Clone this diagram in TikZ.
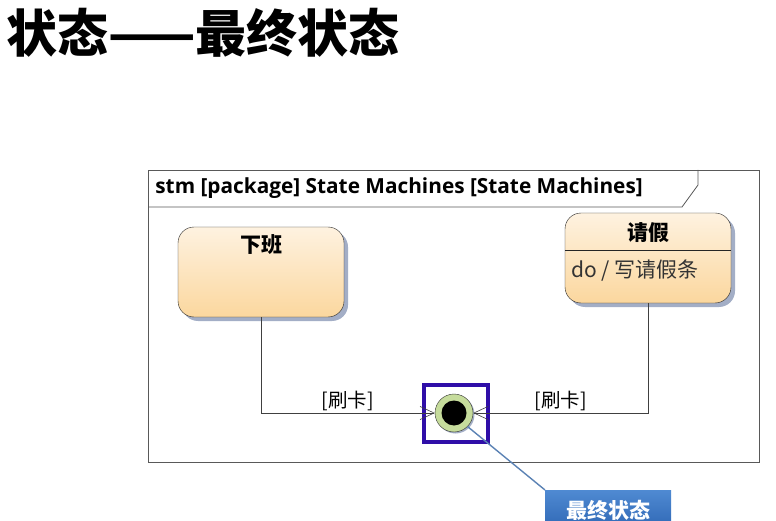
\documentclass[tikz,border=0pt]{standalone}
\usepackage{fontspec}
\setmainfont{Noto Sans CJK SC}
\newfontfamily\latinsans{Open Sans}
\usetikzlibrary{shadows,arrows.meta}
\definecolor{stateTop}{HTML}{FEF2E0}
\definecolor{stateBot}{HTML}{FBD79E}
\definecolor{shadowBlue}{HTML}{A3AEC6}
\definecolor{finalGreen}{HTML}{C6DC9C}
\definecolor{selBlue}{HTML}{2F0EA8}
\definecolor{calloutTop}{HTML}{4F8AD2}
\definecolor{calloutBot}{HTML}{2E66B4}
\definecolor{leaderBlue}{HTML}{5B82B4}
\tikzset{
  statebox/.style={draw=black!85, rounded corners=16pt, top color=stateTop,
    bottom color=stateBot, minimum width=166pt, inner sep=0pt,
    drop shadow={shadow xshift=4pt, shadow yshift=-4pt, fill=shadowBlue, opacity=1}},
  trans/.style={draw=black!75, line width=0.7pt,
    -{Straight Barb[length=14pt,width=13pt,line width=0.6pt]}},
  guard/.style={font=\fontsize{19.5}{19.5}\selectfont, above=-1pt}
}
\begin{document}
\begin{tikzpicture}[x=1pt,y=-1pt]
    \useasboundingbox (0,0) rectangle (776,521);
    % title
    \node[anchor=west, inner sep=0pt, font=\fontsize{51}{51}\selectfont\bfseries]
      (title) at (6,33) {状态——最终状态};
    % frame with tab
    \begin{scope}[draw=black!65, line width=0.8pt]
      \draw (148,170) rectangle (759,462);
      \draw (148,207) -- (682,207) -- (698,185) -- (698,170);
      \node[anchor=west, inner sep=0pt, font=\fontsize{20.8}{20.8}\latinsans\bfseries]
        (frameName) at (155,188) {stm [package] State Machines [State Machines]};
    \end{scope}
    % states
    \node[statebox, minimum height=90pt] (xiaban) at (261,272) {};
    \node[font=\fontsize{21}{21}\selectfont\bfseries] (xiabanName) at (261,245) {下班};
    \node[statebox, minimum height=90pt] (qingjia) at (648,258) {};
    \node[font=\fontsize{21}{21}\selectfont\bfseries] (qingjiaName) at (648,233) {请假};
    \draw[black!85] (qingjia.west |- 0,250) -- (qingjia.east |- 0,250);
    \node[anchor=west, inner sep=0pt, text=black!80, font=\fontsize{21}{21}\selectfont]
      (qingjiaDo) at (571,271) {do / 写请假条};
    % final state
    \node[draw=black!80, circle, fill=finalGreen, minimum size=38pt, inner sep=0pt,
      drop shadow={shadow xshift=1.5pt, shadow yshift=-1.5pt, fill=shadowBlue, opacity=1}]
      (final) at (454,413) {};
    \node[circle, fill=black, minimum size=25pt, inner sep=0pt] (finalDot) at (final) {};
    \draw[selBlue, line width=3.2pt] (424,385) rectangle (488,442);
    % transitions
    \draw[trans] (xiaban.south) |- (final.west) node[guard, pos=0.75] (guardL) {[刷卡]};
    \draw[trans] (qingjia.south) |- (final.east) node[guard, pos=0.75] (guardR) {[刷卡]};
    % callout
    \node[anchor=north west, minimum width=126pt, minimum height=40pt, inner sep=0pt,
      top color=calloutTop, bottom color=calloutBot, text=white,
      font=\fontsize{21}{21}\selectfont\bfseries]
      (callout) at (545,490) {最终状态};
    \draw[leaderBlue, line width=1.4pt] (final.south east) -- (callout.north west);
\end{tikzpicture}
\end{document}
